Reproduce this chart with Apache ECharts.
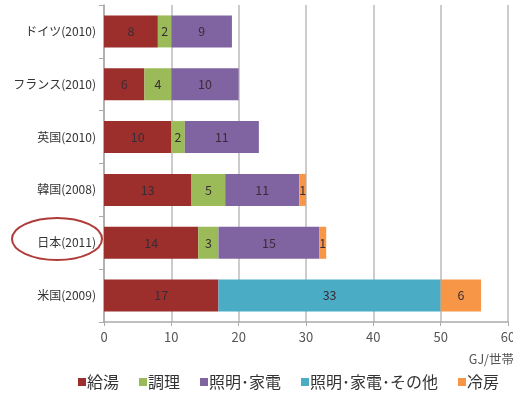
<!DOCTYPE html>
<html>
<head>
<meta charset="utf-8">
<script src="https://cdn.jsdelivr.net/npm/echarts@6/dist/echarts.min.js"></script>
<style>
  html, body { margin: 0; padding: 0; background: #fff; }
  #chart { width: 513px; height: 398px; }
</style>
</head>
<body>
<div id="chart"></div>
<script>
// Household energy use by end use (GJ per household)
const countries = ['ドイツ(2010)', 'フランス(2010)', '英国(2010)', '韓国(2008)', '日本(2011)', '米国(2009)'];
const uses = ['給湯', '調理', '照明･家電', '照明･家電･その他', '冷房'];
const hotWater   = [8, 6, 10, 13, 14, 17];
const cooking    = [2, 4, 2, 5, 3, null];
const lighting   = [9, 10, 11, 11, 15, null];
const lightOther = [null, null, null, null, null, 33];
const cooling    = [null, null, null, 1, 1, 6];
const xTicks = { min: 0, max: 60, step: 10 };

const FONT = '"Noto Sans CJK JP", "Noto Sans", sans-serif';

function barSeries(name, data, color) {
  return {
    name: name,
    type: 'bar',
    stack: 'total',
    data: data,
    barWidth: 32,
    itemStyle: { color: color },
    label: {
      show: true,
      position: 'inside',
      color: '#3a2c36',
      fontSize: 12.5,
      fontFamily: FONT,
      formatter: p => (p.value == null ? '' : p.value)
    }
  };
}

const chart = echarts.init(document.getElementById('chart'), null, { renderer: 'canvas' });
chart.setOption({
  animation: false,
  textStyle: { fontFamily: FONT },
  grid: { left: 104, right: 5, top: 5, bottom: 76, containLabel: false, outerBoundsMode: 'none' },
  xAxis: {
    type: 'value',
    min: xTicks.min,
    max: xTicks.max,
    interval: xTicks.step,
    axisLine: { show: true, lineStyle: { color: '#aaa', width: 1.5 } },
    axisTick: { show: true, length: 4, lineStyle: { color: '#aaa' } },
    axisLabel: { color: '#555', fontSize: 13, margin: 9, fontFamily: FONT },
    splitLine: { show: true, lineStyle: { color: '#bbb', width: 1.5 } }
  },
  yAxis: {
    type: 'category',
    data: countries,
    inverse: true,
    axisLine: { show: true, lineStyle: { color: '#aaa', width: 1.5 } },
    axisTick: { show: true, length: 5, lineStyle: { color: '#aaa' } },
    axisLabel: { color: '#333', fontSize: 12, margin: 8, fontFamily: FONT }
  },
  legend: {
    top: 374,
    left: 78,
    icon: 'rect',
    itemWidth: 8,
    itemHeight: 8,
    itemGap: 20,
    padding: 0,
    textStyle: { color: '#333', fontSize: 16, fontFamily: FONT, padding: [0, 0, 0, -4] },
    data: uses
  },
  series: [
    barSeries(uses[0], hotWater, '#9c2f2c'),
    barSeries(uses[1], cooking, '#9bbb59'),
    barSeries(uses[2], lighting, '#8064a2'),
    barSeries(uses[3], lightOther, '#4bacc6'),
    barSeries(uses[4], cooling, '#f79646')
  ],
  graphic: [
    {
      type: 'text',
      right: -1,
      top: 353,
      style: { text: 'GJ/世帯', fill: '#555', fontSize: 12.5, fontFamily: FONT }
    },
    {
      type: 'ellipse',
      shape: { cx: 57, cy: 239, rx: 45, ry: 21 },
      style: { fill: 'none', stroke: '#b03c3a', lineWidth: 2 }
    }
  ]
});
</script>
</body>
</html>
